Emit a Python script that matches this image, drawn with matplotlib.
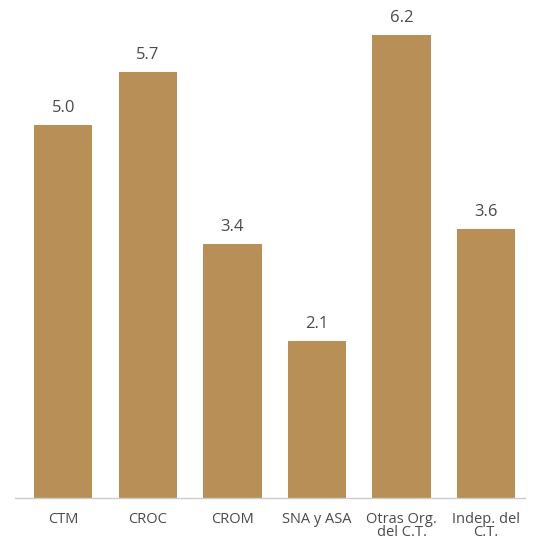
import matplotlib
matplotlib.use("Agg")
import matplotlib.pyplot as plt

# data
categories = ["CTM", "CROC", "CROM", "SNA y ASA", "Otras Org.\ndel C.T.", "Indep. del\nC.T."]
values = [5.0, 5.7, 3.4, 2.1, 6.2, 3.6]

BAR_COLOR = "#B98F58"
TEXT_COLOR = "#4a4a4a"

plt.rcParams["font.family"] = ["Open Sans", "DejaVu Sans"]

fig = plt.figure(figsize=(5.34, 5.41), dpi=100)
ax = fig.add_axes([15 / 534, 43 / 541, 510 / 534, 463 / 541])

x = range(len(categories))
bars = ax.bar(x, values, width=0.69, color=BAR_COLOR)
for b, v in zip(bars, values):
    ax.text(b.get_x() + b.get_width() / 2, v + 0.12, f"{v:.1f}",
            ha="center", va="bottom", fontsize=12, color=TEXT_COLOR)

ax.set_xlim(-0.57, 5.46)
ax.set_ylim(0, 6.2)
ax.set_xticks(list(x))
ax.set_xticklabels(categories, fontsize=10.5, color=TEXT_COLOR, linespacing=0.8)
ax.tick_params(axis="x", length=0, pad=10)
ax.set_yticks([])
for side in ("top", "right", "left"):
    ax.spines[side].set_visible(False)
ax.spines["bottom"].set_color("#cccccc")
ax.spines["bottom"].set_linewidth(1.0)

fig.savefig("out.png", dpi=100)
